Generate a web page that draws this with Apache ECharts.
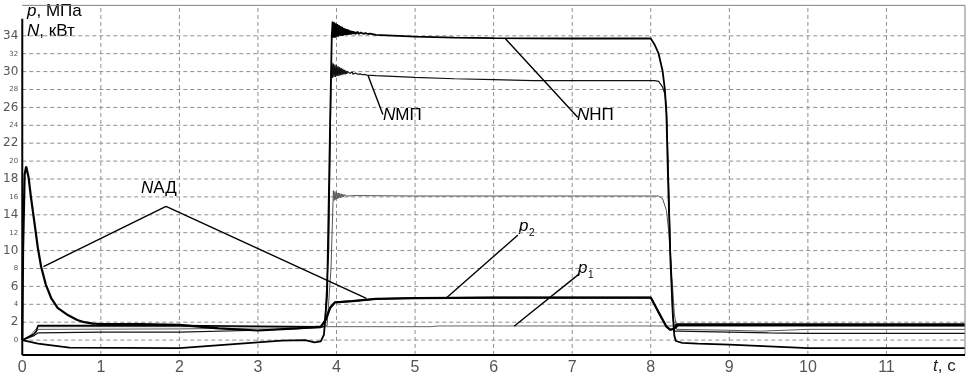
<!DOCTYPE html>
<html><head><meta charset="utf-8">
<script src="https://cdn.jsdelivr.net/npm/echarts@6/dist/echarts.min.js"></script>
<style>html,body{margin:0;padding:0;background:#fff}#c{width:975px;height:376px}</style>
</head><body><div id="c"></div>
<script>
// x-axis (time, s) ticks and y-axis ticks
const xTicks = [0,1,2,3,4,5,6,7,8,9,10,11];
const yTicks = [0,2,4,6,8,10,12,14,16,18,20,22,24,26,28,30,32,34];
// visible plot extent (data units)
const tMin = 0, tMax = 12, vMin = -1.66, vMax = 37.4;

// N АД (drive motor power)
const nadT = [0,0.01,0.03,0.05,0.08,0.11,0.16,0.2,0.24,0.3,0.37,0.45,0.58,0.7,0.79,0.9,1.0,1.5,2.0,2.5,3.0,3.5,3.8,3.86,3.92,3.98,4.2,4.5,5,6,7,8.0,8.1,8.2,8.25,8.3,8.33,9,10,12];
const nadV = [0,10,18.5,19.4,18.2,16,12.8,10.2,8.2,6.2,4.65,3.6,2.8,2.25,2.0,1.85,1.8,1.78,1.7,1.3,1.07,1.3,1.5,2.2,3.6,4.2,4.35,4.6,4.7,4.75,4.75,4.75,3.1,1.5,1.15,1.3,1.75,1.75,1.75,1.75];

// p2
const p2T = [0,0.15,0.18,0.2,2,3,3.8,3.86,3.92,3.98,4.2,4.5,5,6,8,8.1,8.2,8.25,8.3,8.35,12];
const p2V = [0,0.7,1.0,1.62,1.62,1.55,1.5,2.3,3.7,4.25,4.35,4.6,4.7,4.75,4.75,3.1,1.5,1.15,1.25,1.65,1.65];

// p1
const p1T = [0,0.1,0.2,2,3,3.85,5.2,5.3,8.3,12];
const p1V = [0,0.5,1.5,1.5,1.5,1.5,1.5,1.58,1.58,1.55];

// N МП
const nmpT = [0,0.15,0.2,1,2,3,3.8,3.85,3.9,3.93,
  3.94,3.95,3.96,3.97,3.98,3.99,4.0,4.01,4.02,4.03,4.04,4.05,4.06,4.07,4.08,4.09,4.1,4.11,4.12,4.13,4.14,4.15,4.16,4.17,4.18,4.19,
  4.2,4.21,4.22,4.23,4.24,4.25,4.26,4.27,4.28,4.29,4.3,4.31,4.32,4.33,4.34,4.35,4.36,4.37,4.38,4.39,4.4,
  4.5,5,5.5,6,6.5,8.05,8.1,8.15,8.18,8.2,8.22,8.25,8.28,8.3,8.35,9,9.5,10,12];
const nmpV = [0,0.5,0.8,0.9,0.9,1.1,1.4,1.6,10,29.3,
  31.0,29.3,30.9,29.4,30.8,29.4,30.7,29.5,30.6,29.5,30.5,29.6,30.4,29.6,30.3,29.7,30.2,29.7,30.1,29.75,30.0,29.8,29.95,29.8,29.9,29.8,
  29.95,29.7,29.9,29.7,29.85,29.7,29.8,29.7,29.78,29.68,29.75,29.66,29.72,29.65,29.7,29.64,29.68,29.62,29.66,29.6,29.62,
  29.55,29.35,29.2,29.1,29.0,29.0,28.9,28.3,27.5,26,20,10,3,1.0,1.0,0.9,0.8,0.75,0.75];

// N НП
const nnpT = [0,0.2,0.6,2,3.3,3.6,3.72,3.8,3.84,3.88,3.92,3.94,
  3.95,3.96,3.97,3.98,3.99,4.0,4.01,4.02,4.03,4.04,4.05,4.06,4.07,4.08,4.09,4.1,4.11,4.12,4.13,4.14,4.15,4.16,4.17,4.18,4.19,4.2,4.21,4.22,4.23,4.24,4.25,4.26,
  4.27,4.28,4.29,4.3,4.31,4.32,4.33,4.34,4.35,4.36,4.37,4.38,4.39,4.4,4.41,4.42,4.43,4.44,4.45,
  4.5,5,5.5,6,7,8.0,8.05,8.1,8.15,8.18,8.2,8.22,8.25,8.28,8.3,8.32,8.4,8.6,9,9.5,10,12];
const nnpV = [0,-0.4,-0.85,-0.9,-0.05,0,-0.25,-0.15,0.6,5,25,34,
  35.6,33.8,35.5,33.8,35.4,33.9,35.3,33.9,35.2,34.0,35.1,34.0,35.0,34.0,34.9,34.1,34.8,34.1,34.75,34.1,34.7,34.15,34.6,34.15,34.55,34.2,34.5,34.2,34.45,34.2,34.4,34.25,
  34.45,34.2,34.4,34.2,34.38,34.22,34.35,34.22,34.33,34.23,34.3,34.22,34.28,34.2,34.26,34.2,34.24,34.18,34.2,
  34.1,33.9,33.8,33.75,33.7,33.7,33.0,32.0,30.1,28,25,18,9,3,0.5,-0.1,-0.3,-0.4,-0.5,-0.7,-0.9,-0.9];

// unlabelled curve near 16
const n16T = [0,0.15,0.2,2,3,3.8,3.88,3.93,3.96,3.97,3.98,3.99,4.0,4.01,4.02,4.03,4.04,4.05,4.06,4.07,4.08,4.09,4.1,4.11,4.12,4.13,4.25,5,8.1,8.15,8.2,8.23,8.27,8.3,8.33,9,9.4,10,12];
const n16V = [0,0.6,1.2,1.25,1.35,1.4,1.6,8,16.7,15.6,16.6,15.7,16.5,15.8,16.45,15.85,16.4,15.9,16.35,15.95,16.3,16.0,16.25,16.05,16.2,16.1,16.15,16.1,16.1,15.8,14.5,12,7,3,1.2,1.1,1.0,1.2,1.2];

// leader lines for annotations [t1, v1, t2, v2]
const leaders = [
  [1.83,14.95,0.27,8.2],
  [1.83,14.95,4.38,4.65],
  [4.40,29.6,4.59,25.2],
  [6.15,33.67,7.07,24.9],
  [6.31,11.74,5.39,4.65],
  [7.09,7.4,6.26,1.55]
];

function pairs(t, v){ return t.map((x,i)=>[x, v[i]]); }

const chart = echarts.init(document.getElementById('c'), null, {renderer:'canvas'});
const FONT = 'Liberation Sans';
function lineSeries(name, t, v, color, width, z, dash){
  return {name, type:'line', data:pairs(t,v), showSymbol:false, symbol:'none', clip:false,
    lineStyle:{color, width, type: dash || 'solid'}, z, animation:false, silent:true};
}
// dashed grid lines, drawn as series through the axes' scales
const gridLines = yTicks.map(v=>lineSeries('gy'+v, [tMin,tMax], [v,v], '#8f8f8f', 1, 1, [4,3]))
  .concat(xTicks.filter(t=>t>0).map(t=>lineSeries('gx'+t, [t,t], [vMin,vMax], '#8f8f8f', 1, 1, [4,3])));
// frame: top/right gray, bottom/left black
const frame = [
  lineSeries('fTop', [tMin,tMax], [vMax,vMax], '#808080', 1, 8),
  lineSeries('fRight', [tMax,tMax], [vMin,vMax], '#808080', 1, 8),
  lineSeries('fBottom', [tMin,tMax], [vMin,vMin], '#000', 2, 9),
  lineSeries('fLeft', [tMin,tMin], [vMin,vMax-1.5], '#000', 2, 9)
];
const sP1 = lineSeries('p1', p1T, p1V, '#666', 1, 3);
sP1.markLine = {silent:true, symbol:['none','none'], animation:false, label:{show:false},
  lineStyle:{color:'#000', width:1.4, type:'solid'},
  data: leaders.map(l=>[{coord:[l[0],l[1]]},{coord:[l[2],l[3]]}])};

const option = {
  animation:false,
  backgroundColor:'#fff',
  grid:{left:21, right:10, top:-1.42, bottom:15.93, show:false},
  xAxis:{type:'value', min:0, max:12, interval:1,
    axisLine:{show:false, onZero:false},
    axisTick:{show:false},
    splitLine:{show:false},
    axisLabel:{show:true, color:'#555', fontSize:16, fontFamily:FONT, margin:2,
      formatter:v=> xTicks.indexOf(v)>=0 ? String(v) : ''}},
  yAxis:{type:'value', min:-2, max:38, interval:2,
    axisLine:{show:false, onZero:false},
    axisTick:{show:false},
    splitLine:{show:false},
    axisLabel:{show:true, color:'#555', margin:4,
      formatter:v=> yTicks.indexOf(v)<0 ? '' : (((v/2)%2===1) ? '{b|'+v+'}' : '{s|'+v+'}'),
      rich:{b:{fontSize:12, fontFamily:'DejaVu Sans', color:'#555'},
            s:{fontSize:7, fontFamily:'DejaVu Sans', color:'#555'}}}},
  series: gridLines.concat([
    lineSeries('n16', n16T, n16V, '#555', 1, 2),
    sP1,
    lineSeries('nmp', nmpT, nmpV, '#111', 1.2, 4),
    lineSeries('p2', p2T, p2V, '#000', 1.6, 5),
    lineSeries('nad', nadT, nadV, '#000', 2.2, 6),
    lineSeries('nnp', nnpT, nnpV, '#000', 1.8, 7)
  ]).concat(frame),
  graphic:[
    {type:'text', left:27, top:3, style:{text:'{i|p}, МПа', font:'17px '+FONT, fill:'#000', rich:{i:{fontStyle:'italic', fontSize:17, fontFamily:FONT}}}},
    {type:'text', left:27, top:23, style:{text:'{i|N}, кВт', font:'17px '+FONT, fill:'#000', rich:{i:{fontStyle:'italic', fontSize:17, fontFamily:FONT}}}},
    {type:'text', left:141, top:180, style:{text:'{i|N}АД', font:'17px '+FONT, fill:'#000', rich:{i:{fontStyle:'italic', fontSize:17, fontFamily:FONT}}}},
    {type:'text', left:383, top:107, style:{text:'{i|N}МП', font:'17px '+FONT, fill:'#000', rich:{i:{fontStyle:'italic', fontSize:17, fontFamily:FONT}}}},
    {type:'text', left:577, top:107, style:{text:'{i|N}НП', font:'17px '+FONT, fill:'#000', rich:{i:{fontStyle:'italic', fontSize:17, fontFamily:FONT}}}},
    {type:'text', left:519, top:218, style:{text:'p', font:'italic 17px '+FONT, fill:'#000'}},
    {type:'text', left:529, top:228, style:{text:'2', font:'10px '+FONT, fill:'#000'}},
    {type:'text', left:578, top:260, style:{text:'p', font:'italic 17px '+FONT, fill:'#000'}},
    {type:'text', left:588, top:270, style:{text:'1', font:'10px '+FONT, fill:'#000'}},
    {type:'text', left:933, top:358, style:{text:'{i|t}, с', font:'17px '+FONT, fill:'#222', rich:{i:{fontStyle:'italic', fontSize:17, fontFamily:FONT}}}}
  ]
};
chart.setOption(option);
</script></body></html>
